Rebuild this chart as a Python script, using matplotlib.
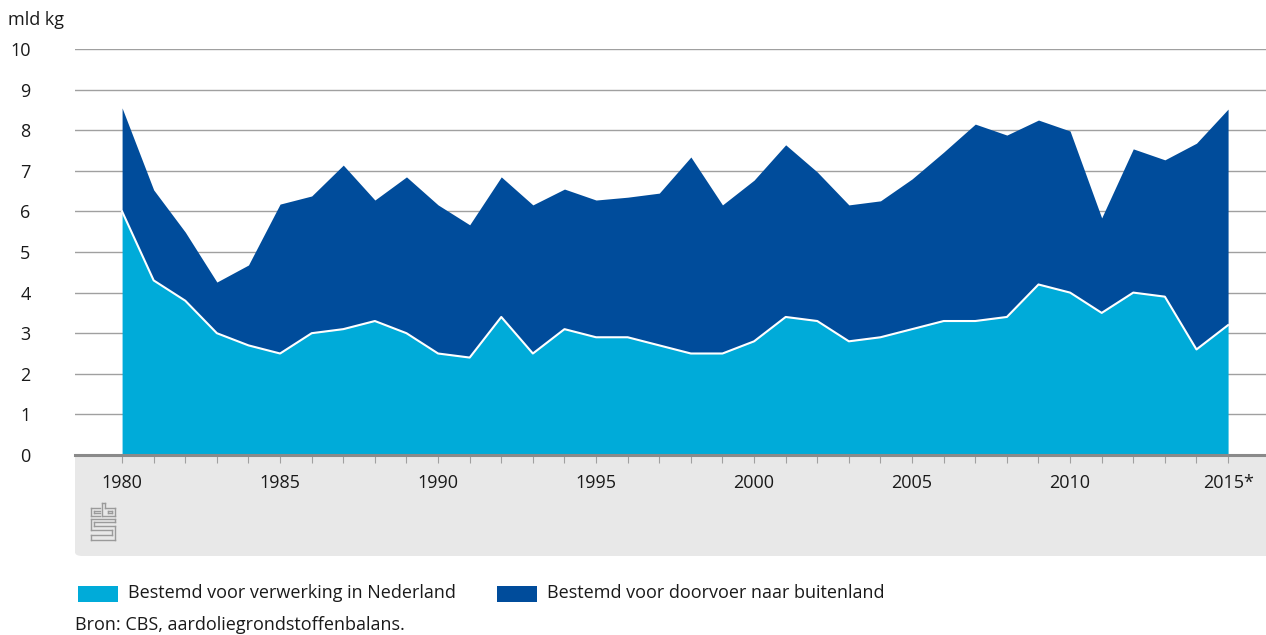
import matplotlib.pyplot as plt
from matplotlib.patches import FancyBboxPatch, Rectangle
from matplotlib.lines import Line2D

plt.rcParams['font.family'] = ['Open Sans', 'DejaVu Sans']

# data (mld kg)
years = list(range(1980, 2016))
verwerking = [6.0, 4.3, 3.8, 3.0, 2.7, 2.5, 3.0, 3.1, 3.3, 3.0,
              2.5, 2.4, 3.4, 2.5, 3.1, 2.9, 2.9, 2.7, 2.5, 2.5,
              2.8, 3.4, 3.3, 2.8, 2.9, 3.1, 3.3, 3.3, 3.4, 4.2,
              4.0, 3.5, 4.0, 3.9, 2.6, 3.2]
doorvoer = [2.55, 2.23, 1.69, 1.26, 1.98, 3.68, 3.38, 4.04, 2.98, 3.85,
            3.66, 3.27, 3.45, 3.66, 3.45, 3.38, 3.45, 3.75, 4.84, 3.66,
            3.97, 4.24, 3.67, 3.36, 3.36, 3.70, 4.16, 4.85, 4.48, 4.05,
            3.98, 2.34, 3.54, 3.37, 5.08, 5.32]
labels = ['Bestemd voor verwerking in Nederland', 'Bestemd voor doorvoer naar buitenland']
colors = ['#00abd9', '#004c9b']
major_years = [1980, 1985, 1990, 1995, 2000, 2005, 2010, 2015]
major_labels = ['1980', '1985', '1990', '1995', '2000', '2005', '2010', '2015*']

W, H = 1266, 635
fig = plt.figure(figsize=(W / 100, H / 100), dpi=100)


def fx(x):
    return x / W


def fy(y):
    return 1 - y / H


# grey band under the x axis
band = FancyBboxPatch((fx(75), fy(556)), fx(1300) - fx(75), fy(440) - fy(556),
                      boxstyle='round,pad=0,rounding_size=0.006',
                      transform=fig.transFigure, facecolor='#e8e8e8',
                      edgecolor='none', zorder=-1)
fig.add_artist(band)

ax = fig.add_axes([fx(75), fy(455), fx(1266) - fx(75), fy(49) - fy(455)])
ax.set_facecolor('white')

total = [a + b for a, b in zip(verwerking, doorvoer)]
ax.fill_between(years, 0, verwerking, color=colors[0], linewidth=0, zorder=2)
ax.fill_between(years, verwerking, total, color=colors[1], linewidth=0, zorder=2)
ax.plot(years, verwerking, color='white', linewidth=1.5, zorder=3)

ax.set_xlim(1978.51, 2016.2)
ax.set_ylim(0, 10)
ax.set_yticks(range(0, 11))
ax.yaxis.grid(True, color='#a0a0a0', linewidth=1.0, zorder=1)
ax.set_axisbelow(True)
ax.tick_params(axis='y', length=0, pad=32, labelsize=13, labelcolor='#1a1a1a')
for t in ax.get_yticklabels():
    t.set_horizontalalignment('right')

ax.set_xticks(major_years)
ax.set_xticklabels(major_labels)
ax.set_xticks(years, minor=True)
ax.tick_params(axis='x', which='both', direction='out', length=6, width=0.8,
               color='#a0a0a0', labelsize=13, labelcolor='#1a1a1a', pad=8)

for s in ['top', 'right', 'left']:
    ax.spines[s].set_visible(False)
ax.spines['bottom'].set_color('#8a8a8a')
ax.spines['bottom'].set_linewidth(2.2)
ax.spines['bottom'].set_zorder(4)

fig.text(fx(8), fy(20), 'mld kg', fontsize=13, color='#1a1a1a', va='center', ha='left')

# cbs logo (simple line drawing)
logo = '#9a9a9a'
segs = [
    # c
    [(91, 508), (100, 508)], [(91, 508), (91, 516)], [(91, 516), (100, 516)],
    [(94, 511), (100, 511)], [(94, 511), (94, 513)], [(94, 513), (100, 513)],
    # b
    [(102, 503), (102, 516)], [(102, 516), (115, 516)], [(115, 516), (115, 508)],
    [(115, 508), (105, 508)], [(105, 508), (105, 503)], [(105, 503), (102, 503)],
    [(108, 511), (112, 511)], [(112, 511), (112, 513)], [(112, 513), (108, 513)],
    [(108, 513), (108, 511)],
    # s
    [(91, 519), (115, 519)], [(91, 519), (91, 530)], [(91, 530), (112, 530)],
    [(112, 530), (112, 535)], [(112, 535), (91, 535)], [(91, 535), (91, 540)],
    [(91, 540), (115, 540)], [(115, 540), (115, 526)], [(115, 526), (94, 526)],
    [(94, 526), (94, 522)], [(94, 522), (115, 522)], [(115, 522), (115, 519)],
]
for seg in segs:
    (x0, y0), (x1, y1) = seg
    fig.add_artist(Line2D([fx(x0), fx(x1)], [fy(y0), fy(y1)], color=logo,
                          linewidth=1.0, transform=fig.transFigure))

# legend
for x0, c, lab in [(78, colors[0], labels[0]), (497, colors[1], labels[1])]:
    fig.add_artist(Rectangle((fx(x0), fy(602)), fx(40), fy(586) - fy(602),
                             transform=fig.transFigure, facecolor=c, edgecolor='none'))
    fig.text(fx(x0 + 50), fy(593), lab, fontsize=13, color='#1a1a1a', va='center', ha='left')

fig.text(fx(75), fy(625), 'Bron: CBS, aardoliegrondstoffenbalans.', fontsize=13,
         color='#1a1a1a', va='center', ha='left')

fig.savefig('out.png', dpi=100)
